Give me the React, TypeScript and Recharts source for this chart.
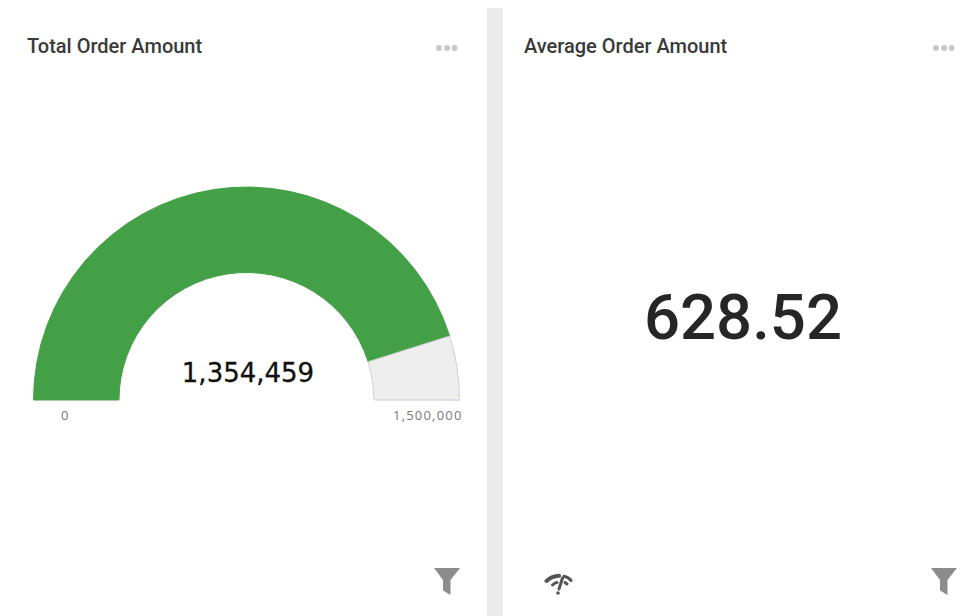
import { Cell, Pie, PieChart } from 'recharts'

const gaugeMin = 0
const gaugeMax = 1500000
const gaugeValue = 1354459
const averageValue = '628.52'
const panelTitles = ['Total Order Amount', 'Average Order Amount']

const gaugeSegments = [
  { name: 'value', value: gaugeValue - gaugeMin },
  { name: 'rest', value: gaugeMax - gaugeValue },
]
const segmentFills = ['#43a047', '#eeeeee']
const segmentStrokes = ['#43a047', '#cfcfcf']

const fmt = (n: number) => n.toLocaleString('en-US')

/** Three grey dots in the panel header. */
function MoreDots({ left }: { left: number }) {
  return (
    <svg
      width={24}
      height={8}
      style={{ position: 'absolute', left, top: 44 }}
    >
      <circle cx={4} cy={4} r={3} fill="#c8c8c8" />
      <circle cx={12} cy={4} r={3} fill="#c8c8c8" />
      <circle cx={19.5} cy={4} r={3} fill="#c8c8c8" />
    </svg>
  )
}

function FilterIcon({ left }: { left: number }) {
  return (
    <svg
      width={28}
      height={30}
      style={{ position: 'absolute', left, top: 567 }}
    >
      <path d="M1 1 H27 L17.5 13 V28 L10 23.5 V13 Z" fill="#8c8c8c" />
    </svg>
  )
}

function SignalIcon({ left }: { left: number }) {
  return (
    <svg
      width={30}
      height={24}
      style={{ position: 'absolute', left, top: 573 }}
      fill="none"
      stroke="#555555"
      strokeLinecap="round"
    >
      <path d="M2.5 8 C7 4 11 3 15 2.8" strokeWidth={4} />
      <path d="M20 3.2 C23 3.8 25.5 5.5 27 7.5" strokeWidth={3} />
      <path d="M8.5 12 C10 10.5 11.5 9.5 13 9.5" strokeWidth={3} />
      <path d="M21 9.5 L23 11" strokeWidth={3} />
      <path d="M18.5 5 L15 16" strokeWidth={3} />
      <circle cx={14} cy={20} r={1.8} fill="#555555" stroke="none" />
    </svg>
  )
}

const titleStyle = {
  position: 'absolute',
  top: 34,
  fontFamily: 'Roboto, sans-serif',
  fontSize: 20,
  fontWeight: 500,
  lineHeight: '24px',
  color: '#3a3a3a',
  whiteSpace: 'nowrap',
} as const

const tickStyle = {
  position: 'absolute',
  top: 406,
  fontFamily: '"Open Sans", sans-serif',
  fontSize: 13,
  lineHeight: '18px',
  letterSpacing: 1.2,
  color: '#777777',
  whiteSpace: 'nowrap',
} as const

export default function App() {
  return (
    <div
      style={{
        position: 'fixed',
        left: 0,
        top: 0,
        width: 976,
        height: 616,
        background: '#ffffff',
        overflow: 'hidden',
      }}
    >
      <div style={{ position: 'absolute', left: 0, top: 0 }}>
        <PieChart
          width={976}
          height={616}
          margin={{ top: 0, right: 0, bottom: 0, left: 0 }}
        >
          <Pie
            data={gaugeSegments}
            dataKey="value"
            nameKey="name"
            cx={246.5}
            cy={400}
            startAngle={180}
            endAngle={0}
            innerRadius={127.5}
            outerRadius={213}
            isAnimationActive={false}
          >
            {gaugeSegments.map((s, i) => (
              <Cell
                key={s.name}
                fill={segmentFills[i]}
                stroke={segmentStrokes[i]}
                strokeWidth={1}
              />
            ))}
          </Pie>
        </PieChart>
      </div>

      {/* faint blue sliver under the end of the gauge */}
      <div
        style={{
          position: 'absolute',
          left: 447,
          top: 399,
          width: 13,
          height: 2,
          background: '#d5deee',
        }}
      />

      {/* divider between the two panels */}
      <div
        style={{
          position: 'absolute',
          left: 487,
          top: 8,
          width: 16,
          height: 608,
          background: '#ebebeb',
        }}
      />

      <div style={{ ...titleStyle, left: 27 }}>{panelTitles[0]}</div>
      <div style={{ ...titleStyle, left: 524 }}>{panelTitles[1]}</div>
      <MoreDots left={435} />
      <MoreDots left={932} />

      <div
        style={{
          position: 'absolute',
          left: 148,
          width: 200,
          top: 356,
          textAlign: 'center',
          fontFamily: '"DejaVu Sans", sans-serif',
          fontSize: 26,
          lineHeight: '34px',
          color: '#111111',
          WebkitTextStroke: '0.3px #111111',
        }}
      >
        {fmt(gaugeValue)}
      </div>
      <div style={{ ...tickStyle, left: 61 }}>{fmt(gaugeMin)}</div>
      <div style={{ ...tickStyle, left: 393 }}>{fmt(gaugeMax)}</div>

      <div
        style={{
          position: 'absolute',
          left: 503,
          width: 480,
          top: 276,
          textAlign: 'center',
          fontFamily: 'Roboto, sans-serif',
          fontSize: 63.5,
          fontWeight: 500,
          lineHeight: '84px',
          color: '#262626',
        }}
      >
        {averageValue}
      </div>

      <FilterIcon left={433} />
      <FilterIcon left={930} />
      <SignalIcon left={544} />
    </div>
  )
}
